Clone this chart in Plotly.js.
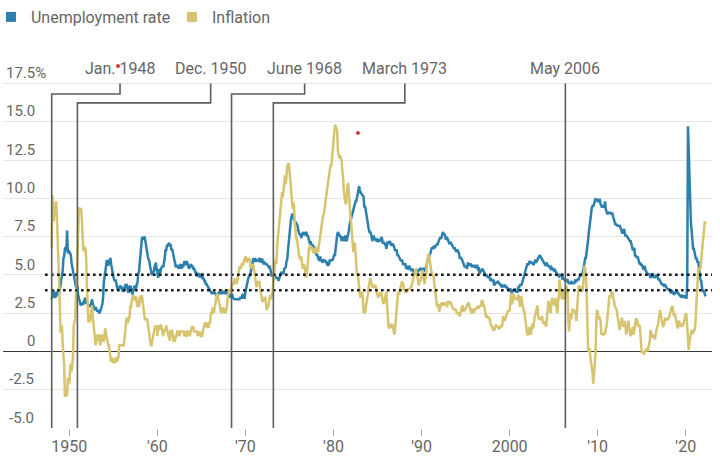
<!DOCTYPE html>
<html><head><meta charset="utf-8">
<script src="https://cdn.plot.ly/plotly-3.0.1.min.js"></script>
<style>html,body{margin:0;padding:0;background:#fff}#chart{width:720px;height:462px}</style>
</head><body><div id="chart"></div>
<script>
// Monthly series, first value = January 1948
const startYear = 1948;
const unemployment = [
3.4,3.8,4.0,3.9,3.5,3.6,3.6,3.9,3.8,3.7,3.8,4.0,
4.3,4.7,5.0,5.3,6.1,6.2,6.7,6.8,6.6,7.9,6.4,6.6,
6.5,6.4,6.3,5.8,5.5,5.4,5.0,4.5,4.4,4.2,4.2,4.3,
3.7,3.4,3.4,3.1,3.0,3.2,3.1,3.1,3.3,3.5,3.5,3.1,
3.2,3.1,2.9,2.9,3.0,3.0,3.2,3.4,3.1,3.0,2.8,2.7,
2.9,2.6,2.6,2.7,2.5,2.5,2.6,2.7,2.9,3.1,3.5,4.5,
4.9,5.2,5.7,5.9,5.9,5.6,5.8,6.0,6.1,5.7,5.3,5.0,
4.9,4.7,4.6,4.7,4.3,4.2,4.0,4.2,4.1,4.3,4.2,4.2,
4.0,3.9,4.2,4.0,4.3,4.3,4.4,4.1,3.9,3.9,4.3,4.2,
4.2,3.9,3.7,3.9,4.1,4.3,4.2,4.1,4.4,4.5,5.1,5.2,
5.8,6.4,6.7,7.4,7.4,7.3,7.5,7.4,7.1,6.7,6.2,6.2,
6.0,5.9,5.6,5.2,5.1,5.0,5.1,5.2,5.5,5.7,5.8,5.3,
5.2,4.8,5.4,5.2,5.1,5.4,5.5,5.6,5.5,6.1,6.1,6.6,
6.6,6.9,6.9,7.0,7.1,6.9,7.0,6.6,6.7,6.5,6.1,6.0,
5.8,5.5,5.6,5.6,5.5,5.5,5.4,5.7,5.6,5.4,5.7,5.5,
5.7,5.9,5.7,5.7,5.9,5.6,5.6,5.4,5.5,5.5,5.7,5.5,
5.6,5.4,5.4,5.3,5.1,5.2,4.9,5.0,5.1,5.1,4.8,5.0,
4.9,5.1,4.7,4.8,4.6,4.6,4.4,4.4,4.3,4.2,4.1,4.0,
4.0,3.8,3.8,3.8,3.9,3.8,3.8,3.8,3.7,3.7,3.6,3.8,
3.9,3.8,3.8,3.8,3.8,3.9,3.8,3.8,3.8,4.0,3.9,3.8,
3.7,3.8,3.7,3.5,3.5,3.7,3.7,3.5,3.4,3.4,3.4,3.4,
3.4,3.4,3.4,3.4,3.4,3.5,3.5,3.5,3.7,3.7,3.5,3.5,
3.9,4.2,4.4,4.6,4.8,4.9,5.0,5.1,5.4,5.5,5.9,6.1,
5.9,5.9,6.0,5.9,5.9,5.9,6.0,6.1,6.0,5.8,6.0,6.0,
5.8,5.7,5.8,5.7,5.7,5.7,5.6,5.6,5.5,5.6,5.3,5.2,
4.9,5.0,4.9,5.0,4.9,4.9,4.8,4.8,4.8,4.6,4.8,4.9,
5.1,5.2,5.1,5.1,5.1,5.4,5.5,5.5,5.9,6.0,6.6,7.2,
8.1,8.1,8.6,8.8,9.0,8.8,8.6,8.4,8.4,8.4,8.3,8.2,
7.9,7.7,7.6,7.7,7.4,7.6,7.8,7.8,7.6,7.7,7.8,7.8,
7.5,7.6,7.4,7.2,7.0,7.2,6.9,7.0,6.8,6.8,6.8,6.4,
6.4,6.3,6.3,6.1,6.0,5.9,6.2,5.9,6.0,5.8,5.9,6.0,
5.9,5.9,5.8,5.8,5.6,5.7,5.7,6.0,5.9,6.0,5.9,6.0,
6.3,6.3,6.3,6.9,7.5,7.6,7.8,7.7,7.5,7.5,7.5,7.2,
7.5,7.4,7.4,7.2,7.5,7.5,7.2,7.4,7.6,7.9,8.3,8.5,
8.6,8.9,9.0,9.3,9.4,9.6,9.8,9.8,10.1,10.4,10.8,10.8,
10.4,10.4,10.3,10.2,10.1,10.1,9.4,9.5,9.2,8.8,8.5,8.3,
8.0,7.8,7.8,7.7,7.4,7.2,7.5,7.5,7.3,7.4,7.2,7.3,
7.3,7.2,7.2,7.3,7.2,7.4,7.4,7.1,7.1,7.1,7.0,7.0,
6.7,7.2,7.2,7.1,7.2,7.2,7.0,6.9,7.0,7.0,6.9,6.6,
6.6,6.6,6.6,6.3,6.3,6.2,6.1,6.0,5.9,6.0,5.8,5.7,
5.7,5.7,5.7,5.4,5.6,5.4,5.4,5.6,5.4,5.4,5.3,5.3,
5.4,5.2,5.0,5.2,5.2,5.3,5.2,5.2,5.3,5.3,5.4,5.4,
5.4,5.3,5.2,5.4,5.4,5.2,5.5,5.7,5.9,5.9,6.2,6.3,
6.4,6.6,6.8,6.7,6.9,6.9,6.8,6.9,6.9,7.0,7.0,7.3,
7.3,7.4,7.4,7.4,7.6,7.8,7.7,7.6,7.6,7.3,7.4,7.4,
7.3,7.1,7.0,7.1,7.1,7.0,6.9,6.8,6.7,6.8,6.6,6.5,
6.6,6.6,6.5,6.4,6.1,6.1,6.1,6.0,5.9,5.8,5.6,5.5,
5.6,5.4,5.4,5.8,5.6,5.6,5.7,5.7,5.6,5.5,5.6,5.6,
5.6,5.5,5.5,5.6,5.6,5.3,5.5,5.1,5.2,5.2,5.4,5.4,
5.3,5.2,5.2,5.1,4.9,5.0,4.9,4.8,4.9,4.7,4.6,4.7,
4.6,4.6,4.7,4.3,4.4,4.5,4.5,4.5,4.6,4.5,4.4,4.4,
4.3,4.4,4.2,4.3,4.2,4.3,4.3,4.2,4.2,4.1,4.1,4.0,
4.0,4.1,4.0,3.8,4.0,4.0,4.0,4.1,3.9,3.9,3.9,3.9,
4.2,4.2,4.3,4.4,4.3,4.5,4.6,4.9,5.0,5.3,5.5,5.7,
5.7,5.7,5.7,5.9,5.8,5.8,5.8,5.7,5.7,5.7,5.9,6.0,
5.8,5.9,5.9,6.0,6.1,6.3,6.2,6.1,6.1,6.0,5.8,5.7,
5.7,5.6,5.8,5.6,5.6,5.6,5.5,5.4,5.4,5.5,5.4,5.4,
5.3,5.4,5.2,5.2,5.1,5.0,5.0,4.9,5.0,5.0,5.0,4.9,
4.7,4.8,4.7,4.7,4.6,4.6,4.7,4.7,4.5,4.4,4.5,4.4,
4.6,4.5,4.4,4.5,4.4,4.6,4.7,4.6,4.7,4.7,4.7,5.0,
5.0,4.9,5.1,5.0,5.4,5.6,5.8,6.1,6.1,6.5,6.8,7.3,
7.8,8.3,8.7,9.0,9.4,9.5,9.5,9.6,9.8,10.0,9.9,9.9,
9.8,9.8,9.9,9.9,9.6,9.4,9.4,9.5,9.5,9.4,9.8,9.3,
9.1,9.0,9.0,9.1,9.0,9.1,9.0,9.0,9.0,8.8,8.6,8.5,
8.3,8.3,8.2,8.2,8.2,8.2,8.2,8.1,7.8,7.8,7.7,7.9,
8.0,7.7,7.5,7.6,7.5,7.5,7.3,7.2,7.2,7.2,6.9,6.7,
6.6,6.7,6.7,6.2,6.3,6.1,6.2,6.1,5.9,5.7,5.8,5.6,
5.7,5.5,5.4,5.4,5.6,5.3,5.2,5.1,5.0,5.0,5.1,5.0,
4.8,4.9,5.0,5.1,4.8,4.9,4.8,4.9,5.0,4.9,4.7,4.7,
4.7,4.6,4.4,4.4,4.4,4.3,4.3,4.4,4.3,4.2,4.2,4.1,
4.0,4.1,4.0,4.0,3.8,4.0,3.8,3.8,3.7,3.8,3.8,3.9,
4.0,3.8,3.8,3.7,3.6,3.6,3.7,3.6,3.5,3.6,3.6,3.6,
3.5,3.5,4.4,14.7,13.2,11.0,10.2,8.4,7.9,6.9,6.7,6.7,
6.4,6.2,6.0,6.1,5.8,5.9,5.4,5.2,4.7,4.6,4.2,3.9,
4.0,3.8,3.6,3.6
];
const inflation = [
6.8,10.2,9.0,8.5,9.3,9.5,9.8,8.9,6.5,6.1,4.8,3.0,
1.3,1.3,1.7,0.4,-0.4,-0.9,-2.9,-2.9,-2.4,-2.9,-1.7,-2.1,
-2.1,-1.3,-0.8,-1.3,-0.4,-0.4,1.7,2.1,2.1,3.8,3.8,5.9,
8.1,9.4,9.3,9.3,9.3,8.7,7.5,6.6,6.9,6.5,6.8,6.0,
4.3,2.3,1.9,2.3,1.9,2.3,3.0,3.0,2.2,1.8,1.4,0.9,
0.4,0.7,1.1,0.7,1.1,1.1,0.4,0.7,0.7,1.1,0.7,0.7,
1.1,1.5,1.1,0.7,0.7,0.4,0.4,0.0,-0.4,-0.7,-0.4,-0.7,
-0.7,-0.7,-0.7,-0.4,-0.7,-0.7,-0.4,-0.4,0.4,0.4,0.4,0.4,
0.4,0.4,0.4,0.7,1.1,1.9,2.2,1.9,1.9,2.2,2.2,2.9,
2.9,3.3,3.7,3.7,3.6,3.3,3.3,3.6,3.3,2.9,3.3,2.9,
3.6,3.2,3.6,3.6,3.2,2.8,2.4,2.1,2.1,2.1,2.1,1.8,
1.4,1.0,0.4,0.4,0.4,0.7,0.7,1.1,1.4,1.7,1.4,1.7,
1.0,1.7,1.4,1.7,1.7,1.7,1.4,1.4,1.0,1.4,1.4,1.4,
1.7,1.4,1.4,1.0,1.0,0.7,1.4,1.0,1.4,0.7,0.7,0.7,
0.7,1.0,1.0,1.3,1.3,1.3,1.0,1.3,1.3,1.3,1.3,1.3,
1.3,1.0,1.3,1.0,1.0,1.3,1.3,1.3,1.0,1.3,1.3,1.6,
1.6,1.6,1.3,1.3,1.3,1.3,1.3,1.0,1.3,1.0,1.3,1.0,
1.0,1.0,1.3,1.6,1.6,1.9,1.6,1.9,1.6,1.6,1.6,1.9,
1.9,2.5,2.5,2.8,2.8,2.5,2.8,3.4,3.4,3.7,3.7,3.4,
3.4,2.8,2.8,2.5,2.8,2.8,2.8,2.5,2.8,2.5,2.7,3.0,
3.6,4.0,4.0,4.0,3.9,4.2,4.5,4.4,4.4,4.7,4.7,4.7,
4.4,4.7,5.2,5.5,5.5,5.5,5.4,5.7,5.7,5.7,5.9,6.2,
6.2,6.1,5.8,6.1,6.0,6.0,6.0,5.4,5.7,5.6,5.6,5.6,
5.3,5.0,4.7,4.2,4.4,4.6,4.4,4.6,4.1,3.8,3.3,3.3,
3.3,3.5,3.5,3.5,3.2,2.7,2.9,2.9,3.2,3.4,3.7,3.4,
3.6,3.9,4.6,5.1,5.5,6.0,5.7,7.4,7.4,7.8,8.3,8.7,
9.4,10.0,10.4,10.1,10.7,10.9,11.5,10.9,11.9,12.1,12.2,12.3,
11.8,11.2,10.3,10.2,9.5,9.3,9.7,8.6,7.9,7.4,7.4,6.9,
6.7,6.3,6.1,6.0,6.2,5.9,5.4,5.7,5.5,5.5,4.9,4.9,
5.2,5.9,6.4,6.9,6.7,6.9,6.8,6.6,6.6,6.4,6.7,6.7,
6.8,6.4,6.6,6.5,6.9,7.4,7.7,7.9,8.3,8.9,8.9,9.0,
9.3,9.9,10.1,10.5,10.9,10.9,11.3,11.8,12.2,12.1,12.6,13.3,
13.9,14.2,14.8,14.7,14.4,14.4,13.1,12.9,12.6,12.8,12.6,12.5,
11.8,11.4,10.5,10.0,9.8,9.6,10.8,10.8,11.0,10.1,9.6,8.9,
8.4,7.6,6.8,6.5,6.7,7.1,6.4,5.9,5.0,5.1,4.6,3.8,
3.7,3.5,3.6,3.9,3.5,2.6,2.5,2.6,2.9,2.9,3.3,3.8,
4.2,4.6,4.8,4.6,4.2,4.2,4.2,4.3,4.3,4.3,4.1,3.9,
3.5,3.5,3.7,3.7,3.8,3.8,3.6,3.3,3.1,3.2,3.5,3.8,
3.9,3.1,2.2,1.6,1.5,1.8,1.6,1.6,1.8,1.5,1.3,1.1,
1.5,2.1,3.0,3.8,3.9,3.7,3.9,4.3,4.4,4.5,4.5,4.4,
4.0,3.9,3.9,3.9,3.9,4.0,4.1,4.0,4.2,4.2,4.2,4.4,
4.7,4.8,5.0,5.1,5.4,5.2,5.0,4.7,4.3,4.5,4.7,4.6,
5.2,5.3,5.2,4.7,4.4,4.7,4.8,5.6,6.2,6.3,6.3,6.1,
5.7,5.3,4.9,4.9,5.0,4.7,4.4,3.8,3.4,2.9,3.0,3.1,
2.6,2.8,3.2,3.2,3.0,3.1,3.2,3.1,3.0,3.2,3.0,2.9,
3.3,3.2,3.1,3.2,3.2,3.0,2.8,2.8,2.7,2.8,2.7,2.7,
2.5,2.5,2.5,2.4,2.3,2.5,2.8,2.9,3.0,2.6,2.7,2.7,
2.8,2.9,2.9,3.1,3.2,3.0,2.8,2.6,2.5,2.8,2.6,2.5,
2.7,2.7,2.8,2.9,2.9,2.8,3.0,2.9,3.0,3.0,3.3,3.3,
3.0,3.0,2.8,2.5,2.2,2.3,2.2,2.2,2.2,2.1,1.8,1.7,
1.6,1.4,1.4,1.4,1.7,1.7,1.7,1.6,1.5,1.5,1.5,1.6,
1.7,1.6,1.7,2.3,2.1,2.0,2.1,2.3,2.6,2.6,2.6,2.7,
2.7,3.2,3.8,3.1,3.2,3.7,3.7,3.4,3.5,3.4,3.4,3.4,
3.7,3.5,2.9,3.3,3.6,3.2,2.7,2.7,2.6,2.1,1.9,1.6,
1.1,1.1,1.5,1.6,1.2,1.1,1.5,1.8,1.5,2.0,2.2,2.4,
2.6,3.0,3.0,2.2,2.1,2.1,2.1,2.2,2.3,2.0,1.8,1.9,
1.9,1.7,1.7,2.3,3.1,3.3,3.0,2.7,2.5,3.2,3.5,3.3,
3.0,3.0,3.1,3.5,2.8,2.5,3.2,3.6,4.7,4.3,3.5,3.4,
4.0,3.6,3.4,3.5,4.2,4.3,4.1,3.8,2.1,1.3,2.0,2.5,
2.1,2.4,2.8,2.6,2.7,2.7,2.4,2.0,2.8,3.5,4.3,4.1,
4.3,4.0,4.0,3.9,4.2,5.0,5.6,5.4,4.9,3.7,1.1,0.1,
0.0,0.2,-0.4,-0.7,-1.3,-1.4,-2.1,-1.5,-1.3,-0.2,1.8,2.7,
2.6,2.1,2.3,2.2,2.0,1.1,1.2,1.1,1.1,1.2,1.1,1.5,
1.6,2.1,2.7,3.2,3.6,3.6,3.6,3.8,3.9,3.5,3.4,3.0,
2.9,2.9,2.7,2.3,1.7,1.7,1.4,1.7,2.0,2.2,1.8,1.7,
1.6,2.0,1.5,1.1,1.4,1.8,2.0,1.5,1.2,1.0,1.2,1.5,
1.6,1.1,1.5,2.0,2.1,2.1,2.0,1.7,1.7,1.7,1.3,0.8,
-0.1,0.0,-0.1,-0.2,0.0,0.1,0.2,0.2,0.0,0.2,0.5,0.7,
1.4,1.0,0.9,1.1,1.0,1.0,0.8,1.1,1.5,1.6,1.7,2.1,
2.5,2.7,2.4,2.2,1.9,1.6,1.7,1.9,2.2,2.0,2.2,2.1,
2.1,2.2,2.4,2.5,2.8,2.9,2.9,2.7,2.3,2.5,2.2,1.9,
1.6,1.5,1.9,2.0,1.8,1.6,1.8,1.7,1.7,1.8,2.1,2.3,
2.5,2.3,1.5,0.3,0.1,0.6,1.0,1.3,1.4,1.2,1.2,1.4,
1.4,1.7,2.6,4.2,5.0,5.4,5.4,5.3,5.4,6.2,6.8,7.0,
7.5,7.9,8.5,8.3
];
const seriesNames = ["Unemployment rate", "Inflation"];
const seriesColors = ["#2b80ad", "#d6c46e"];
const eventLabels = ["Jan. 1948", "Dec. 1950", "June 1968", "March 1973", "May 2006"];
const eventDates = [1948.0, 1950.92, 1968.42, 1973.17, 2006.33];
const dottedLevels = [5.0, 4.0];
const xTickVals = [1950, 1960, 1970, 1980, 1990, 2000, 2010, 2020];
const xTickText = ["1950", "'60", "'70", "'80", "'90", "2000", "'10", "'20"];
const yTickVals = [-5, -2.5, 0, 2.5, 5, 7.5, 10, 12.5, 15, 17.5];
const yTickText = ["\u2009-5.0", "\u2009-2.5", "\u2007\u2007\u20080", "\u20072.5", "\u20075.0", "\u20077.5", "10.0", "12.5", "15.0", "17.5%"];
const markDotX = [1955.53, 1982.78];
const markDotY = [18.64, 14.26];

const months = unemployment.map((_, i) => startYear + i / 12);
const X_RANGE = [1942.47, 2022.98];
const Y_RANGE = [-5, 19.03];
const Y_TOP_GRID = 17.5;
const FONT = "Roboto, 'Liberation Sans', Arial, sans-serif";

const traces = [
  {x: months, y: unemployment, type: 'scatter', mode: 'lines', name: seriesNames[0],
   line: {color: seriesColors[0], width: 2.5}, showlegend: false, hoverinfo: 'skip'},
  {x: months, y: inflation, type: 'scatter', mode: 'lines', name: seriesNames[1],
   line: {color: seriesColors[1], width: 2.5}, showlegend: false, hoverinfo: 'skip'},
  {x: [null], y: [null], type: 'scatter', mode: 'markers', name: seriesNames[0],
   marker: {symbol: 'square', size: 10, color: seriesColors[0]}},
  {x: [null], y: [null], type: 'scatter', mode: 'markers', name: seriesNames[1],
   marker: {symbol: 'square', size: 10, color: seriesColors[1]}},
  {x: markDotX, y: markDotY, type: 'scatter', mode: 'markers', showlegend: false,
   hoverinfo: 'skip', cliponaxis: false, marker: {size: 4, color: '#d8392b'}}
];

// label anchor positions (x in years) and elbow heights (y units) for the connectors
const labelX = [1955.76, 1966.05, 1976.72, 1988.1, 2006.33];
const elbowY = [16.81, 16.23, 16.81, 16.23, null];

const shapes = [];
dottedLevels.forEach(v => shapes.push({type: 'line', xref: 'x', yref: 'y',
  x0: 1947.25, x1: X_RANGE[1], y0: v, y1: v,
  line: {color: '#111', width: 2.5, dash: '2.5px,3.5px'}, layer: 'above'}));
eventDates.forEach((d, i) => {
  const b = Y_RANGE[0], t = Y_TOP_GRID;
  let path;
  if (elbowY[i] === null) path = `M ${d},${b} L ${d},${t}`;
  else path = `M ${d},${b} L ${d},${elbowY[i]} L ${labelX[i]},${elbowY[i]} L ${labelX[i]},${t}`;
  shapes.push({type: 'path', xref: 'x', yref: 'y', path,
    line: {color: '#5e5e5e', width: 1.6}, layer: 'above'});
});

const annotations = eventLabels.map((t, i) => ({
  text: t, x: labelX[i], xref: 'x', y: 18.47, yref: 'y',
  xanchor: 'center', yanchor: 'middle', showarrow: false,
  font: {family: FONT, size: 16, color: '#666'}
}));

const layout = {
  width: 720, height: 462,
  margin: {l: 3, r: 8, t: 60, b: 34, autoexpand: false},
  paper_bgcolor: '#fff', plot_bgcolor: '#fff',
  font: {family: FONT, size: 15, color: '#666'},
  showlegend: true,
  legend: {orientation: 'h', x: -0.017, xref: 'paper', y: 1.0, yref: 'container',
    xanchor: 'left', yanchor: 'top', entrywidth: 136, entrywidthmode: 'pixels',
    font: {family: FONT, size: 16, color: '#666'}, bgcolor: 'rgba(0,0,0,0)'},
  xaxis: {range: X_RANGE, showgrid: false, zeroline: false, showline: false,
    tickmode: 'array', tickvals: xTickVals, ticktext: xTickText,
    ticks: 'outside', ticklen: 7, tickcolor: '#aaa', tickwidth: 1, ticklabelstandoff: -3,
    tickfont: {family: FONT, size: 16, color: '#666'}},
  yaxis: {range: Y_RANGE, showgrid: true, gridcolor: '#e6e6e6', gridwidth: 1,
    zeroline: true, zerolinecolor: '#3a3a3a', zerolinewidth: 1.5, showline: false,
    tickmode: 'array', tickvals: yTickVals, ticktext: yTickText,
    ticks: '', ticklabelposition: 'inside top',
    tickfont: {family: FONT, size: 15, color: '#666'}},
  shapes, annotations
};

Plotly.newPlot('chart', traces, layout, {displayModeBar: false, staticPlot: true});
</script>
</body></html>
